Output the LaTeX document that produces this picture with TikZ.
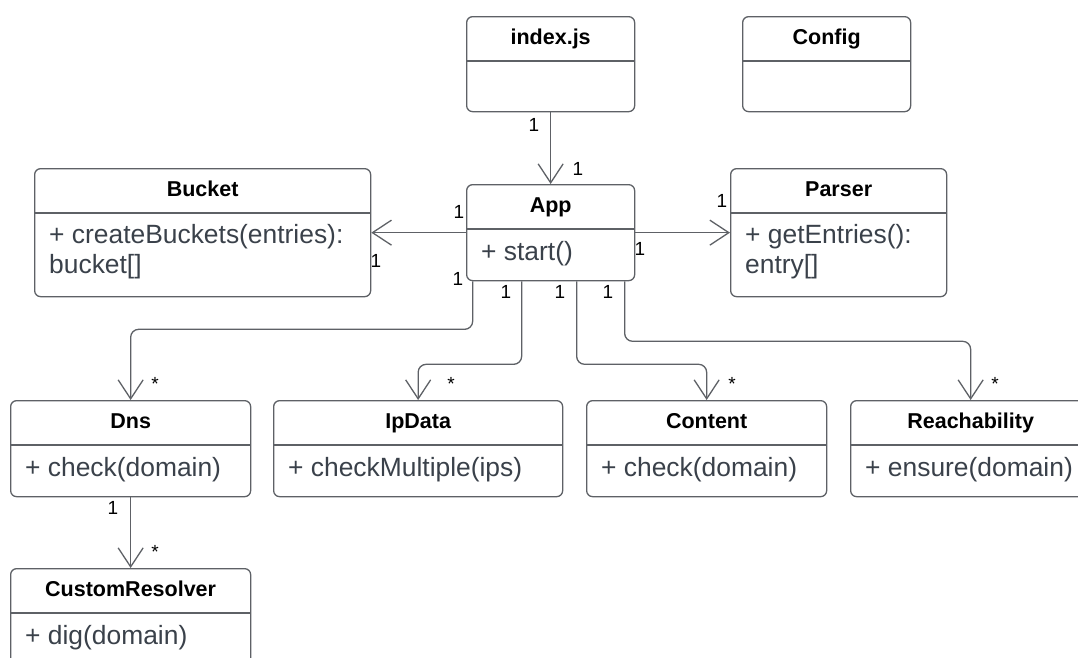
\documentclass[tikz,border=0pt]{standalone}
\usepackage{fontspec}
\setmainfont{Liberation Sans}
\usetikzlibrary{arrows.meta}

\definecolor{linegray}{HTML}{5E6166}
\definecolor{opsgray}{HTML}{3A414A}

\tikzset{
  classbox/.style={draw=linegray, line width=1.3pt, rounded corners=6pt, inner sep=0pt},
  classname/.style={anchor=base, inner sep=0pt, font=\fontsize{21.5}{24}\selectfont\bfseries},
  classops/.style={anchor=base west, inner sep=0pt, align=left, text=opsgray,
    font=\fontsize{26.4}{30}\selectfont},
  mult/.style={anchor=base, inner sep=0pt, font=\fontsize{19}{22}\selectfont},
  assoc/.style={draw=linegray, line width=1.3pt, rounded corners=8pt,
    -{Straight Barb[length=19pt,width=25pt]}},
}

% class box: [baseline of last operation line], name, left, top, width, height, title, operations
\newcommand{\umlclass}[8][76]{%
  \node[classbox, anchor=north west, minimum width=#5pt, minimum height=#6pt] (#2) at (#3,#4) {};
  \draw[classbox] ([yshift=-45pt]#2.north west) -- ([yshift=-45pt]#2.north east);
  \node[classname] (#2-name) at ([yshift=-28pt]#2.north) {#7};
  \node[classops] (#2-ops) at ([xshift=15pt,yshift=-#1pt]#2.north west) {#8};
}

\begin{document}
\begin{tikzpicture}[x=1pt,y=-1pt]
  \useasboundingbox (0,0) rectangle (1078,657);
  \clip (0,0) rectangle (1078,657);

  % classes
  \umlclass{index}{466}{16}{168}{95}{index.js}{}
  \umlclass{config}{742}{16}{168}{95}{Config}{}
  \umlclass{app}{466}{184}{168}{96}{App}{+ start()}
  \umlclass[105]{bucket}{34}{168}{336}{128}{Bucket}{+ createBuckets(entries):\\bucket[]}
  \umlclass[105]{parser}{730}{168}{216}{128}{Parser}{+ getEntries():\\entry[]}
  \umlclass{dns}{10}{400}{240}{96}{Dns}{+ check(domain)}
  \umlclass{ipdata}{273}{400}{289}{96}{IpData}{+ checkMultiple(ips)}
  \umlclass{content}{586}{400}{240}{96}{Content}{+ check(domain)}
  \umlclass{reach}{850}{400}{240}{96}{Reachability}{+ ensure(domain)}
  \umlclass{resolver}{10}{568}{240}{96}{CustomResolver}{+ dig(domain)}

  % associations
  \draw[assoc] (index.south) -- (app.north);
  \draw[assoc] (app.west) -- (app.west -| bucket.east);
  \draw[assoc] (app.east) -- (app.east -| parser.west);
  \draw[assoc] ([xshift=-78pt]app.south) -- ++(0,48) -| (dns.north);
  \draw[assoc] ([xshift=-29pt]app.south) -- ++(0,83) -| (ipdata.north);
  \draw[assoc] ([xshift=26pt]app.south) -- ++(0,83) -| (content.north);
  \draw[assoc] ([xshift=74pt]app.south) -- ++(0,60) -| (reach.north);
  \draw[assoc] (dns.south) -- (resolver.north);

  % multiplicities
  \node[mult] (index-m) at (534,131) {1};
  \node[mult] (app-top-m) at (578,175) {1};
  \node[mult] (app-left-m) at (459,218) {1};
  \node[mult] (bucket-m) at (376,267) {1};
  \node[mult] (app-right-m) at (640,255) {1};
  \node[mult] (parser-m) at (722,207) {1};
  \node[mult] (app-dns-m) at (458,285) {1};
  \node[mult] (app-ipdata-m) at (506,298) {1};
  \node[mult] (app-content-m) at (560,298) {1};
  \node[mult] (app-reach-m) at (608,298) {1};
  \node[mult] (dns-m) at (155,390) {*};
  \node[mult] (ipdata-m) at (451,390) {*};
  \node[mult] (content-m) at (732,390) {*};
  \node[mult] (reach-m) at (995,390) {*};
  \node[mult] (dns-bottom-m) at (113,514) {1};
  \node[mult] (resolver-m) at (155,558) {*};
\end{tikzpicture}
\end{document}
